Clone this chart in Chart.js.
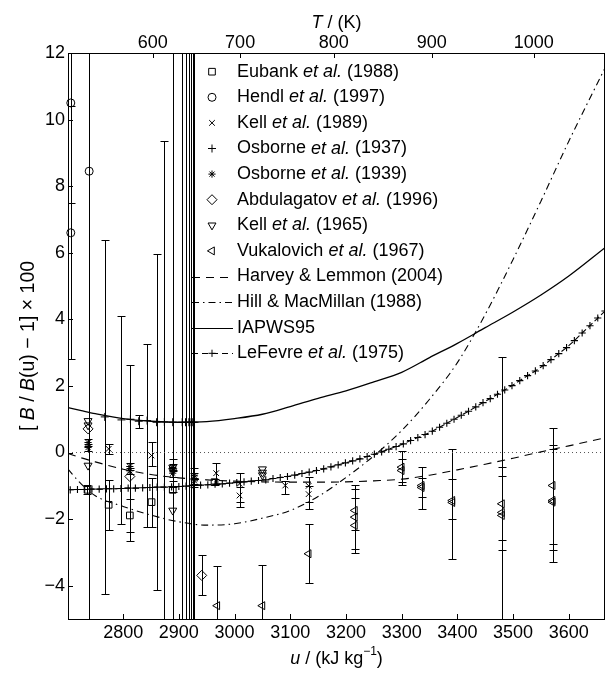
<!DOCTYPE html>
<html>
<head>
<meta charset="utf-8">
<script src="https://cdn.jsdelivr.net/npm/chart.js@4.4.0/dist/chart.umd.min.js"></script>
<style>
html,body{margin:0;padding:0;background:#fff;}
#wrap{width:611px;height:673px;}
</style>
</head>
<body>
<div id="wrap"><canvas id="c" width="611" height="673"></canvas></div>
<script>
const FONT = '"Liberation Sans", Arial, Helvetica, sans-serif';

// axes
const uMin = 2701, uMax = 3665, yMin = -5, yMax = 12;
const uTicks = [2800, 2900, 3000, 3100, 3200, 3300, 3400, 3500, 3600];
const yTicks = [-4, -2, 0, 2, 4, 6, 8, 10, 12];
const tLabels = [600, 700, 800, 900, 1000];
const tAtU = [2853, 3010, 3178, 3354, 3537];

const seriesNames = ['Eubank et al. (1988)', 'Hendl et al. (1997)', 'Kell et al. (1989)',
  'Osborne et al. (1937)', 'Osborne et al. (1939)', 'Abdulagatov et al. (1996)',
  'Kell et al. (1965)', 'Vukalovich et al. (1967)', 'Harvey & Lemmon (2004)',
  'Hill & MacMillan (1988)', 'IAPWS95', 'LeFevre et al. (1975)'];

// Eubank et al. (1988) - squares
const eubankU  = [2736, 2774, 2812, 2851, 2889, 2964];
const eubankV  = [-1.12, -1.57, -1.89, -1.49, -1.12, -0.89];
const eubankLo = [-1.25, -2.32, -2.40, -2.24, -1.20, -0.97];
const eubankHi = [-0.99, -0.82, -1.40, -0.75, -1.04, -0.81];

// Hendl et al. (1997) - circles
const hendlU  = [2706, 2706, 2739];
const hendlV  = [10.5, 6.6, 8.45];
const hendlLo = [7.5, 2.8, -6];
const hendlHi = [13.5, 10.4, 23];

// Kell et al. (1989) - x
const kell89U  = [2774, 2851, 2889, 2928, 2967, 3009, 3009, 3091, 3133, 3133];
const kell89V  = [0.11, -0.09, -0.50, -0.75, -0.62, -0.94, -1.29, -0.99, -1.00, -1.25];
const kell89Lo = [-0.03, -0.40, -0.85, -1.05, -0.95, -1.65, -1.50, -1.26, -1.69, -1.50];
const kell89Hi = [0.25, 0.33, -0.20, -0.45, -0.32, -0.60, -1.05, -0.85, -0.74, -1.00];

// Osborne et al. (1937) - plus
const osb37U  = [2767, 2797, 2813, 2828, 2843, 2860, 2874, 2889, 2906, 2912, 2918, 2922, 2925, 2928];
const osb37V  = [1.07, 0.98, 1.00, 0.94, 0.96, 0.91, 0.92, 0.91, 0.91, 0.91, 0.91, 0.91, 0.91, 0.91];
const osb37Lo = [-4.24, -2.14, -2.66, 0.74, -2.24, -4.14, -9, -20, -20, -20, -20, -20, -20, -20];
const osb37Hi = [6.37, 4.11, 2.64, 1.14, 3.26, 5.96, 9.35, 20, 20, 20, 20, 20, 20, 20];

// Osborne et al. (1939) - asterisk
const osb39U  = [2737, 2737, 2812, 2812, 2889, 2889, 2928, 2928];
const osb39V  = [0.30, 0.15, -0.42, -0.55, -0.45, -0.62, -0.70, -0.85];
const osb39Lo = [0.20, 0.05, -0.52, -0.65, -0.55, -0.72, -0.80, -0.95];
const osb39Hi = [0.40, 0.25, -0.32, -0.45, -0.35, -0.52, -0.60, -0.75];

// Abdulagatov et al. (1996) - diamonds
const abdU  = [2737, 2812, 2941];
const abdV  = [0.71, -0.72, -3.69];
const abdLo = [0.71, -0.72, -4.29];
const abdHi = [0.71, -0.72, -3.09];

// Kell et al. (1965) - down triangles
const kell65U = [2737, 2737, 2737, 2889, 2889, 2889, 3050, 3050, 3050];
const kell65V = [0.95, 0.82, -0.39, -0.45, -0.55, -1.74, -0.50, -0.60, -0.68];

// Vukalovich et al. (1967) - left triangles
const vukU  = [2969, 3050, 3133, 3216, 3216, 3216, 3300, 3300, 3336, 3336, 3391, 3391, 3480, 3480, 3480, 3571, 3571, 3571];
const vukV  = [-4.6, -4.6, -3.04, -1.74, -1.94, -2.19, -0.44, -0.54, -0.99, -1.05, -1.44, -1.50, -1.54, -1.89, -1.80, -0.99, -1.44, -1.49];
const vukLo = [-5.8, -5.8, -3.92, -2.34, -2.89, -3.01, -0.99, -0.90, -1.69, -1.35, -2.01, -3.19, -2.62, -2.94, -6.5, -2.74, -2.94, -3.29];
const vukHi = [-3.41, -3.39, -2.14, -1.09, -0.99, -1.37, 0.06, -0.20, -0.44, -0.75, -0.81, 0.11, -0.44, -0.69, 2.88, 0.74, 0.24, 0.11];

// correlations (curves)
const curveU  = [2701, 2725, 2750, 2800, 2850, 2900, 2950, 3000, 3050, 3100, 3150, 3200, 3250, 3300, 3350, 3400, 3450, 3500, 3550, 3600, 3665];
const harveyV = [-0.03, -0.16, -0.28, -0.50, -0.66, -0.76, -0.82, -0.86, -0.88, -0.89, -0.89, -0.88, -0.85, -0.80, -0.68, -0.52, -0.35, -0.17, 0.02, 0.20, 0.44];
const hillV   = [-0.50, -0.95, -1.30, -1.62, -1.88, -2.08, -2.18, -2.14, -1.97, -1.74, -1.32, -0.75, -0.10, 0.66, 1.60, 2.70, 4.15, 5.80, 7.55, 9.35, 11.55];
const iapwsV  = [1.35, 1.26, 1.17, 1.02, 0.94, 0.91, 0.93, 1.02, 1.15, 1.38, 1.63, 1.85, 2.12, 2.41, 2.85, 3.28, 3.75, 4.22, 4.73, 5.30, 6.15];

// LeFevre et al. (1975)
const lefU = [2705, 2718, 2731, 2744, 2757, 2770, 2783, 2796, 2809, 2822, 2835, 2848, 2861, 2874, 2887, 2900,
  2913, 2926, 2939, 2952, 2965, 2978, 2991, 3004, 3017, 3030, 3043, 3056, 3069, 3082, 3095, 3108, 3121, 3134,
  3147, 3160, 3173, 3186, 3199, 3212, 3225, 3238, 3251, 3264, 3277, 3290, 3303, 3316, 3329, 3342, 3355, 3368,
  3381, 3394, 3407, 3420, 3433, 3446, 3459, 3472, 3485, 3498, 3512, 3526, 3540, 3554, 3568, 3582, 3596, 3610,
  3624, 3638, 3652, 3665];
const lefV = [-1.12, -1.11, -1.11, -1.10, -1.10, -1.09, -1.09, -1.08, -1.07, -1.07, -1.06, -1.05, -1.04, -1.04, -1.03, -1.02,
  -1.01, -0.99, -0.98, -0.97, -0.95, -0.94, -0.92, -0.90, -0.88, -0.86, -0.84, -0.82, -0.78, -0.75, -0.72, -0.68, -0.63, -0.59,
  -0.54, -0.49, -0.43, -0.37, -0.31, -0.25, -0.19, -0.12, -0.05, 0.02, 0.10, 0.18, 0.26, 0.36, 0.45, 0.54, 0.64, 0.76,
  0.88, 1.00, 1.12, 1.24, 1.37, 1.50, 1.62, 1.75, 1.88, 2.01, 2.16, 2.31, 2.45, 2.61, 2.79, 2.97, 3.15, 3.36,
  3.59, 3.81, 4.04, 4.25];

// zero reference
const zeroU = [2701, 3665];
const zeroV = [0, 0];

const pts = (u, v) => u.map((x, i) => ({x: x, y: v[i]}));

function markerSet(name, u, v, style, radius, rotation, lo, hi) {
  return {
    label: name, data: pts(u, v), showLine: false, pointStyle: style, pointRadius: radius,
    pointHoverRadius: radius, pointRotation: rotation || 0, borderColor: '#000',
    backgroundColor: 'rgba(0,0,0,0)', pointBorderWidth: 1, pointBackgroundColor: 'rgba(0,0,0,0)',
    pointBorderColor: '#000', clip: false, errLo: lo, errHi: hi
  };
}
function curveSet(name, u, v, dash, width) {
  return {
    label: name, data: pts(u, v), showLine: true, pointRadius: 0, borderColor: '#000',
    borderWidth: width, borderDash: dash, cubicInterpolationMode: 'monotone', fill: false
  };
}

const datasets = [
  markerSet(seriesNames[0], eubankU, eubankV, 'rect', 4.7, 0, eubankLo, eubankHi),
  markerSet(seriesNames[1], hendlU, hendlV, 'circle', 4, 0, hendlLo, hendlHi),
  markerSet(seriesNames[2], kell89U, kell89V, 'crossRot', 4, 0, kell89Lo, kell89Hi),
  markerSet(seriesNames[3], osb37U, osb37V, 'cross', 4, 0, osb37Lo, osb37Hi),
  markerSet(seriesNames[4], osb39U, osb39V, 'star', 3.6, 0, osb39Lo, osb39Hi),
  markerSet(seriesNames[5], abdU, abdV, 'rectRot', 5, 0, abdLo, abdHi),
  markerSet(seriesNames[6], kell65U, kell65V, 'triangle', 4.6, 180, null, null),
  markerSet(seriesNames[7], vukU, vukV, 'triangle', 4.6, 270, vukLo, vukHi),
  curveSet(seriesNames[8], curveU, harveyV, [8, 6], 1.1),
  curveSet(seriesNames[9], curveU, hillV, [7, 4, 1.5, 4], 1.1),
  curveSet(seriesNames[10], curveU, iapwsV, [], 1.3),
  Object.assign(curveSet(seriesNames[11], lefU, lefV, [6, 3], 1.1),
    {pointRadius: 3.6, pointStyle: 'cross', pointBorderColor: '#000', pointBorderWidth: 1.1, cubicInterpolationMode: 'default', tension: 0}),
  {label: 'zero', data: pts(zeroU, zeroV), showLine: true, pointRadius: 0, borderColor: '#555',
   borderWidth: 1, borderDash: [1, 3]}
];

const legendStyles = [
  {m: 'rect', r: 4.7, rot: 0}, {m: 'circle', r: 4, rot: 0}, {m: 'crossRot', r: 4, rot: 0},
  {m: 'cross', r: 4, rot: 0}, {m: 'star', r: 3.6, rot: 0}, {m: 'rectRot', r: 5, rot: 0},
  {m: 'triangle', r: 4.6, rot: 180}, {m: 'triangle', r: 4.6, rot: 270},
  {dash: [8, 6]}, {dash: [7, 4, 1.5, 4]}, {dash: []}, {dash: [6, 4], m: 'cross', r: 3.6, rot: 0}
];

const CAP = 4;
function crisp(v) { return Math.round(v) + 0.5; }

function fontFor(p, size) {
  return (p.it ? 'italic ' : '') + (p.sup ? 12 : size) + 'px ' + FONT;
}
function drawRich(ctx, parts, x, y, align, size) {
  let total = 0;
  const w = parts.map(p => { ctx.font = fontFor(p, size); const m = ctx.measureText(p.t).width; total += m; return m; });
  let cx = align === 'center' ? x - total / 2 : x;
  ctx.textAlign = 'left';
  ctx.textBaseline = 'middle';
  parts.forEach((p, i) => {
    ctx.font = fontFor(p, size);
    ctx.fillText(p.t, cx, y + (p.sup ? -7 : 0));
    cx += w[i];
  });
}
function labelParts(s) {
  const k = s.indexOf('et al.');
  if (k < 0) return [{t: s}];
  return [{t: s.slice(0, k)}, {t: 'et al.', it: true}, {t: s.slice(k + 6)}];
}

const decorPlugin = {
  id: 'decor',
  beforeDatasetsDraw(chart) {
    const {ctx, chartArea: a} = chart;
    const xs = chart.scales.x, ys = chart.scales.y;
    ctx.save();
    ctx.beginPath();
    ctx.rect(a.left, a.top, a.right - a.left, a.bottom - a.top);
    ctx.clip();
    ctx.strokeStyle = '#000';
    ctx.lineWidth = 1;
    chart.data.datasets.forEach(ds => {
      if (!ds.errLo) return;
      ds.data.forEach((p, j) => {
        const lo = ds.errLo[j], hi = ds.errHi[j];
        if (lo === hi) return;
        const px = crisp(xs.getPixelForValue(p.x));
        const y1 = crisp(ys.getPixelForValue(lo)), y2 = crisp(ys.getPixelForValue(hi));
        ctx.beginPath();
        ctx.moveTo(px, y1); ctx.lineTo(px, y2);
        ctx.moveTo(px - CAP, y1); ctx.lineTo(px + CAP, y1);
        ctx.moveTo(px - CAP, y2); ctx.lineTo(px + CAP, y2);
        ctx.stroke();
      });
    });
    ctx.restore();
  },
  afterDraw(chart) {
    const {ctx, chartArea: a} = chart;
    const xs = chart.scales.x, ys = chart.scales.y, x2 = chart.scales.x2;
    ctx.save();
    ctx.strokeStyle = '#000';
    ctx.lineWidth = 1;
    ctx.setLineDash([]);
    // frame
    ctx.strokeRect(crisp(a.left), crisp(a.top), Math.round(a.right - a.left) - 1, Math.round(a.bottom - a.top));
    // inward ticks
    ctx.beginPath();
    uTicks.forEach(v => { const px = crisp(xs.getPixelForValue(v)); ctx.moveTo(px, a.bottom); ctx.lineTo(px, a.bottom - 5); });
    tAtU.forEach(v => { const px = crisp(x2.getPixelForValue(v)); ctx.moveTo(px, a.top); ctx.lineTo(px, a.top + 5); });
    yTicks.forEach(v => { const py = crisp(ys.getPixelForValue(v)); ctx.moveTo(a.left, py); ctx.lineTo(a.left + 5, py); });
    ctx.stroke();

    // axis titles
    ctx.fillStyle = '#000';
    const cx = (a.left + a.right) / 2;
    drawRich(ctx, [{t: 'u', it: true}, {t: ' / (kJ kg'}, {t: '\u22121', sup: true}, {t: ')'}], cx, 659, 'center', 18);
    drawRich(ctx, [{t: 'T', it: true}, {t: ' / (K)'}], cx, 23, 'center', 18);
    ctx.save();
    ctx.translate(29, 346);
    ctx.rotate(-Math.PI / 2);
    drawRich(ctx, [{t: '[ '}, {t: 'B', it: true}, {t: ' / '}, {t: 'B', it: true}, {t: '(u) \u2212 1] \u00d7 100'}], 0, 0, 'center', 19.5);
    ctx.restore();

    // legend
    const y0 = 71.7, dy = 25.6;
    seriesNames.forEach((name, i) => {
      const st = legendStyles[i];
      const yy = y0 + dy * i;
      if (st.dash) {
        ctx.save();
        ctx.setLineDash(st.dash);
        ctx.lineWidth = 1.1;
        ctx.beginPath();
        ctx.moveTo(192, crisp(yy)); ctx.lineTo(233, crisp(yy));
        ctx.stroke();
        ctx.restore();
      }
      if (st.m) {
        ctx.save();
        ctx.setLineDash([]);
        ctx.strokeStyle = '#000';
        ctx.fillStyle = 'rgba(0,0,0,0)';
        ctx.lineWidth = 1;
        Chart.helpers.drawPoint(ctx, {pointStyle: st.m, radius: st.r, rotation: st.rot, borderWidth: 1}, 212, yy);
        ctx.restore();
      }
      ctx.fillStyle = '#000';
      drawRich(ctx, labelParts(name), 237, yy, 'left', 18);
    });
    ctx.restore();
  }
};

const tickFont = {family: FONT, size: 18, lineHeight: 1};

new Chart(document.getElementById('c'), {
  type: 'scatter',
  data: {datasets: datasets},
  options: {
    responsive: false,
    animation: false,
    devicePixelRatio: 1,
    layout: {padding: {left: 0, right: 5, top: 0, bottom: 0}},
    plugins: {legend: {display: false}, tooltip: {enabled: false}},
    scales: {
      x: {
        type: 'linear', position: 'bottom', min: uMin, max: uMax,
        grid: {display: false, drawTicks: false}, border: {display: false},
        ticks: {font: tickFont, color: '#000', padding: 5, maxRotation: 0, autoSkip: false,
                callback: v => String(v)},
        afterBuildTicks: s => { s.ticks = uTicks.map(v => ({value: v})); },
        afterFit: s => { s.height = 54; }
      },
      x2: {
        type: 'linear', position: 'top', min: uMin, max: uMax,
        grid: {display: false, drawTicks: false}, border: {display: false},
        ticks: {font: tickFont, color: '#000', padding: 1, maxRotation: 0, autoSkip: false,
                callback: (v, i) => String(tLabels[i])},
        afterBuildTicks: s => { s.ticks = tAtU.map(v => ({value: v})); },
        afterFit: s => { s.height = 53; }
      },
      y: {
        type: 'linear', position: 'left', min: yMin, max: yMax,
        grid: {display: false, drawTicks: false}, border: {display: false},
        ticks: {font: tickFont, color: '#000', padding: 3, autoSkip: false,
                callback: v => (v < 0 ? '\u2212' + Math.abs(v) : String(v))},
        afterBuildTicks: s => { s.ticks = yTicks.map(v => ({value: v})); },
        afterFit: s => { s.width = 68; }
      }
    }
  },
  plugins: [decorPlugin]
});
</script>
</body>
</html>
